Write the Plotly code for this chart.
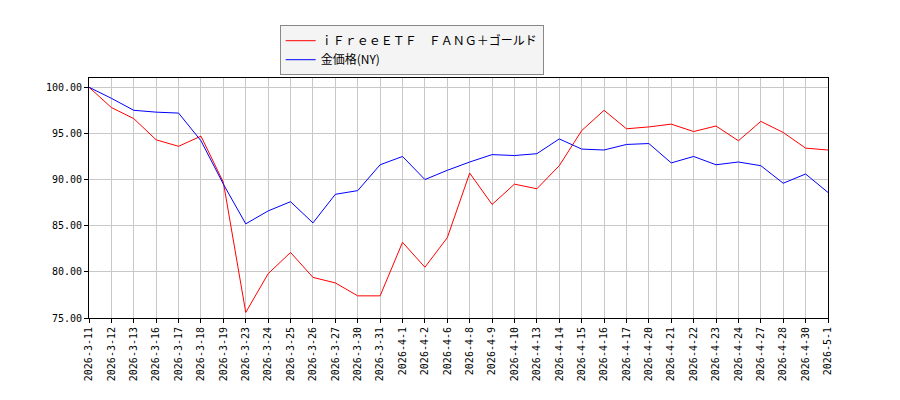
import plotly.graph_objects as go

dates = ["2026-3-11","2026-3-12","2026-3-13","2026-3-16","2026-3-17","2026-3-18","2026-3-19",
         "2026-3-23","2026-3-24","2026-3-25","2026-3-26","2026-3-27","2026-3-30","2026-3-31",
         "2026-4-1","2026-4-2","2026-4-6","2026-4-8","2026-4-9","2026-4-10","2026-4-13",
         "2026-4-14","2026-4-15","2026-4-16","2026-4-17","2026-4-20","2026-4-21","2026-4-22",
         "2026-4-23","2026-4-24","2026-4-27","2026-4-28","2026-4-30","2026-5-1"]
fang = [100, 97.8, 96.6, 94.3, 93.6, 94.7, 89.7, 75.6, 79.8, 82.1, 79.4, 78.8, 77.4, 77.4,
        83.2, 80.5, 83.7, 90.7, 87.3, 89.5, 89.0, 91.5, 95.3, 97.5, 95.5, 95.7, 96.0, 95.2,
        95.8, 94.2, 96.3, 95.1, 93.4, 93.2]
gold = [100, 98.8, 97.5, 97.3, 97.2, 94.2, 89.5, 85.2, 86.6, 87.6, 85.3, 88.4, 88.8, 91.6,
        92.5, 90.0, 91.0, 91.9, 92.7, 92.6, 92.8, 94.4, 93.3, 93.2, 93.8, 93.9, 91.8, 92.5,
        91.6, 91.9, 91.5, 89.6, 90.6, 88.6]

fig = go.Figure()
fig.add_trace(go.Scatter(x=dates, y=fang, mode="lines", name="ｉＦｒｅｅＥＴＦ　ＦＡＮＧ＋ゴールド",
                         line=dict(color="red", width=1)))
fig.add_trace(go.Scatter(x=dates, y=gold, mode="lines", name="金価格(NY)",
                         line=dict(color="blue", width=1)))

axis = dict(showgrid=True, gridcolor="#c8c8c8", showline=True, linecolor="black", mirror=True,
            ticks="outside", tickcolor="black", ticklen=4, zeroline=False, automargin=False,
            tickfont=dict(family="DejaVu Sans Mono", size=10))
fig.update_xaxes(**axis, type="category", tickangle=-90, range=[0, 33])
fig.update_yaxes(**axis, range=[75, 101], tickvals=[75, 80, 85, 90, 95, 100], tickformat=".2f")
fig.update_layout(
    width=900, height=400, plot_bgcolor="white", paper_bgcolor="white",
    margin=dict(l=81, r=80, t=70, b=90),
    font=dict(family="Noto Sans CJK JP, DejaVu Sans", size=11, color="black"),
    legend=dict(x=0.258, y=1.22, xanchor="left", yanchor="top", bgcolor="#f4f4f4",
                bordercolor="#888", borderwidth=1, font=dict(size=12),
                tracegroupgap=0),
)
fig.write_html("out.html")
